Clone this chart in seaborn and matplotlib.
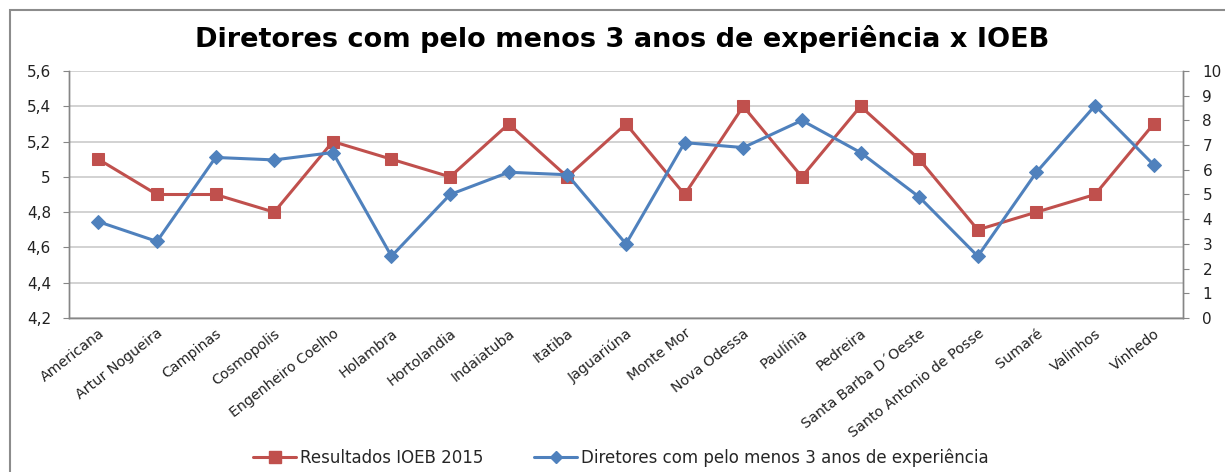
import seaborn as sns
import numpy as np
import pandas as pd
import matplotlib.pyplot as plt
from matplotlib.patches import Rectangle
from matplotlib.lines import Line2D

# municipios (eixo x)
cidades = ["Americana", "Artur Nogueira", "Campinas", "Cosmopolis", "Engenheiro Coelho",
           "Holambra", "Hortolandia", "Indaiatuba", "Itatiba", "Jaguariúna", "Monte Mor",
           "Nova Odessa", "Paulínia", "Pedreira", "Santa Barba D´Oeste",
           "Santo Antonio de Posse", "Sumaré", "Valinhos", "Vinhedo"]

# resultados IOEB 2015 (eixo esquerdo)
ioeb_2015 = [5.1, 4.9, 4.9, 4.8, 5.2, 5.1, 5.0, 5.3, 5.0, 5.3, 4.9, 5.4, 5.0, 5.4,
             5.1, 4.7, 4.8, 4.9, 5.3]

# diretores com pelo menos 3 anos de experiencia (eixo direito)
diretores_3anos = [3.9, 3.1, 6.5, 6.4, 6.7, 2.5, 5.0, 5.9, 5.8, 3.0, 7.1, 6.9, 8.0,
                   6.7, 4.9, 2.5, 5.9, 8.6, 6.2]

left_ticks = [4.2, 4.4, 4.6, 4.8, 5.0, 5.2, 5.4, 5.6]
left_labels = ["4,2", "4,4", "4,6", "4,8", "5", "5,2", "5,4", "5,6"]
right_ticks = list(range(0, 11))

red = "#C0504D"
blue = "#4F81BD"

sns.set_style("white")
plt.rcParams['font.family'] = ['DejaVu Sans']

df = pd.DataFrame({"pos": np.arange(len(cidades)), "cidade": cidades,
                   "ioeb": ioeb_2015, "dir": diretores_3anos})

W, H = 1225, 472
fig = plt.figure(figsize=(W / 100, H / 100), dpi=100)
# moldura do grafico
fig.patches.append(Rectangle((10 / W, -0.1), 1.2, 1 - 10 / H + 0.1,
                             transform=fig.transFigure, fill=False,
                             edgecolor="#8C8C8C", linewidth=1.5))

ax = fig.add_axes([69 / W, 1 - 318 / H, (1183 - 69) / W, (318 - 71) / H])
ax2 = ax.twinx()

sns.lineplot(data=df, x="pos", y="ioeb", ax=ax, color=red, linewidth=2.2,
             marker="s", markersize=9, markeredgecolor=red, sort=False, zorder=3)
sns.lineplot(data=df, x="pos", y="dir", ax=ax2, color=blue, linewidth=2.2,
             marker="D", markersize=7, markeredgecolor=blue, sort=False, zorder=3)

ax.set_xlim(-0.5, len(cidades) - 0.5)
ax.set_ylim(4.2, 5.6)
ax2.set_ylim(0, 10)

ax.set_yticks(left_ticks)
ax.set_yticklabels(left_labels)
ax2.set_yticks(right_ticks)

ax.yaxis.grid(True, color="#CFCFCF", linewidth=1.3)
ax.set_axisbelow(True)

# marcas do eixo x entre categorias
ax.set_xticks(np.arange(-0.5, len(cidades), 1.0), minor=False)
ax.set_xticklabels([])
ax.set_xticks(np.arange(len(cidades)), minor=True)
ax.set_xticklabels(cidades, minor=True, rotation=38, ha="right",
                   rotation_mode="anchor", fontsize=10.3, color="#222222")
ax.tick_params(axis="x", which="minor", length=0, pad=6)
ax.tick_params(axis="x", which="major", length=4, color="#868686", width=1)
ax.tick_params(axis="y", length=4, color="#868686", labelsize=11, labelcolor="#222222",
               left=True, direction="out", pad=9)
ax2.tick_params(axis="y", length=4, color="#868686", labelsize=11, labelcolor="#222222",
                right=True, direction="out", pad=10)

for a in (ax, ax2):
    a.spines["top"].set_visible(False)
    for s in ["left", "right", "bottom"]:
        a.spines[s].set_color("#868686")
        a.spines[s].set_linewidth(1)
ax.set_xlabel("")
ax.set_ylabel("")
ax2.set_ylabel("")

fig.text(622 / W, 1 - 39 / H, "Diretores com pelo menos 3 anos de experiência x IOEB",
         ha="center", va="center", fontsize=19.5, fontweight="bold", color="black")

handles = [Line2D([0], [0], color=red, linewidth=2.2, marker="s", markersize=9,
                  label="Resultados IOEB 2015"),
           Line2D([0], [0], color=blue, linewidth=2.2, marker="D", markersize=6,
                  label="Diretores com pelo menos 3 anos de experiência")]
fig.legend(handles=handles, loc="center", bbox_to_anchor=(621 / W, 1 - 458 / H),
           ncol=2, frameon=False, fontsize=12, handlelength=2.6, columnspacing=3.0,
           handletextpad=0.25)

fig.savefig("out.png", dpi=100)
